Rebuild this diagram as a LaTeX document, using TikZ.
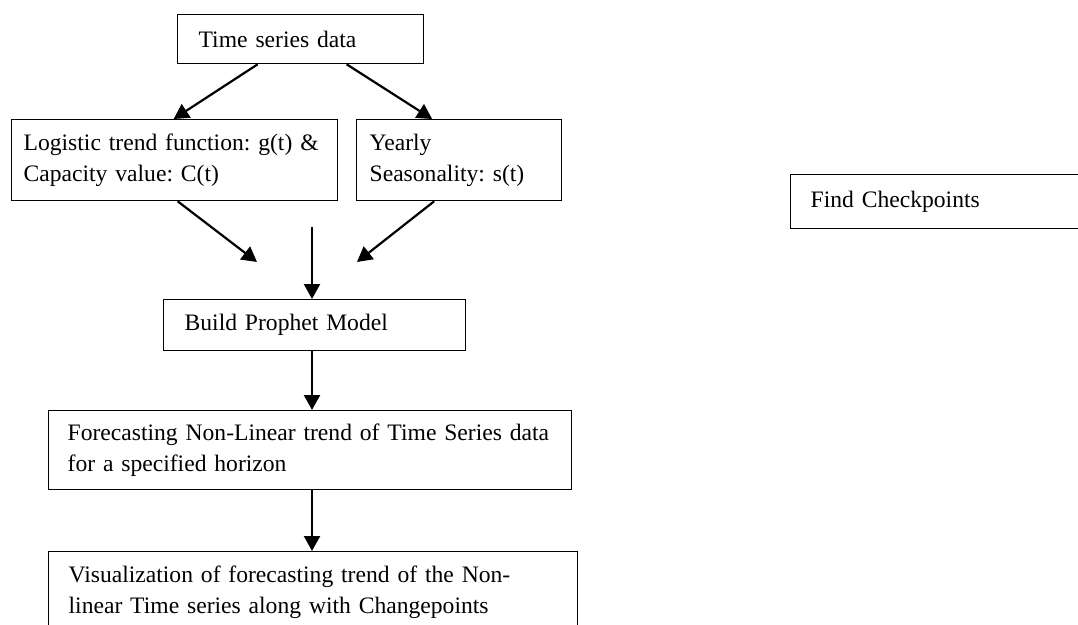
\documentclass[tikz,border=0pt]{standalone}
\usepackage{fontspec}
\setmainfont{Liberation Serif}
\usepackage{tikz}
\usetikzlibrary{arrows.meta}
\frenchspacing

\begin{document}
\begin{tikzpicture}[
	x = 1pt, y = -1pt,
	stage/.style = {draw, rectangle, anchor=north west, align=left, line width=1.3pt, inner ysep=0pt, font=\fontsize{23.6}{31}\selectfont},
	flow/.style = {draw, line width=2.2pt, -{Triangle[length=15pt, width=16pt]}}
]
  \clip (0, 0) rectangle (1078, 624);

  % Define stages
  \node[stage, text width=204pt, inner xsep=21pt, minimum height=49pt] at (177, 14) (tsd) {Time series data};
  \node[stage, text width=302pt, inner xsep=12pt, minimum height=81pt] at (11, 119) (ltf) {Logistic trend function: g(t) \& \\ Capacity value: C(t)};
  \node[stage, text width=179pt, inner xsep=13pt, minimum height=81pt] at (356, 119) (yrs) {Yearly \\ Seasonality: s(t)};
  \node[stage, text width=260pt, inner xsep=21pt, minimum height=51pt] at (163, 299) (bpm) {Build Prophet Model};
  \node[stage, text width=495pt, inner xsep=14pt, minimum height=79pt] at (48, 410) (fnl) {\hspace*{5pt}Forecasting Non-Linear trend of Time Series data \\ \hspace*{5pt}for a specified horizon};
  \node[stage, text width=489pt, inner xsep=20pt, minimum height=82pt] at (48, 551) (vis) {Visualization of forecasting trend of the Non- \\ linear Time series along with Changepoints};
  \node[stage, text width=260pt, inner xsep=20pt, minimum height=54pt] at (790, 174) (fck) {Find Checkpoints};

  % Free ends
  \coordinate (m1) at (257, 262);
  \coordinate (m2) at (357, 262);
  \coordinate (m3) at (312, 227);

  % Edges
  \draw[flow] ([xshift=-43pt]tsd.south) -- ([xshift=-1pt]ltf.north);
  \draw[flow] ([xshift=46pt]tsd.south) -- ([xshift=-27pt]yrs.north);
  \draw[flow] ([xshift=3pt]ltf.south) -- (m1);
  \draw[flow] ([xshift=-25pt]yrs.south) -- (m2);
  \draw[flow] (m3) -- (m3 |- bpm.north);
  \draw[flow] (bpm.south -| m3) -- (fnl.north -| m3);
  \draw[flow] (fnl.south -| m3) -- (vis.north -| m3);
\end{tikzpicture}
\end{document}
